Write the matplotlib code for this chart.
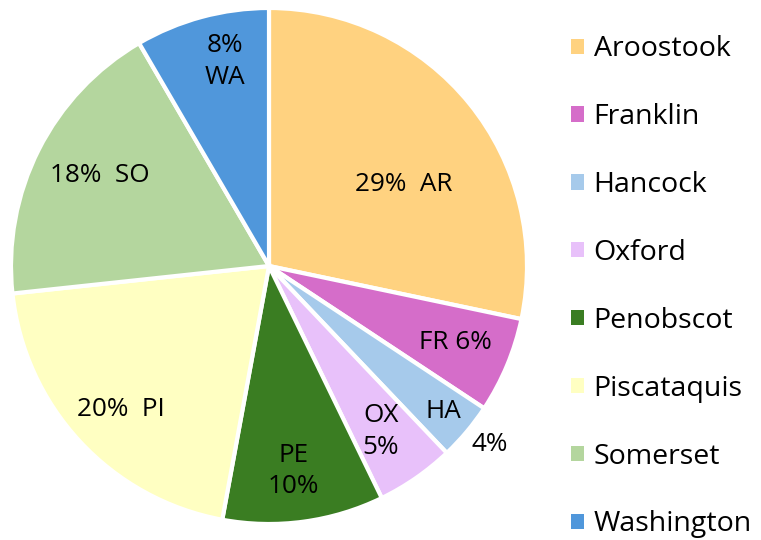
import matplotlib
matplotlib.use("Agg")
import matplotlib.pyplot as plt
import numpy as np
from matplotlib.patches import Patch

plt.rcParams['font.family'] = ['Open Sans', 'DejaVu Sans']

counties = ["Aroostook", "Franklin", "Hancock", "Oxford", "Penobscot",
            "Piscataquis", "Somerset", "Washington"]
abbrevs = ["AR", "FR", "HA", "OX", "PE", "PI", "SO", "WA"]
shares = [28.3, 6.0, 3.6, 4.9, 10.1, 20.4, 18.3, 8.4]
pct_labels = ["29%", "6%", "4%", "5%", "10%", "20%", "18%", "8%"]
colors = ["#FFD280", "#D56DC9", "#A6CAEB", "#E8C1FA", "#3A7D22",
          "#FFFFC2", "#B4D69E", "#5097DB"]

W, H = 761, 540
fig = plt.figure(figsize=(W / 100, H / 100), dpi=100)
cx, cy, R = 269, 266, 258
ax = fig.add_axes([(cx - R) / W, (H - cy - R) / H, 2 * R / W, 2 * R / H])

wedges, _ = ax.pie(shares, colors=colors, startangle=90, counterclock=False,
                   radius=1.0, wedgeprops=dict(edgecolor="white", linewidth=3))
ax.set_xlim(-1, 1)
ax.set_ylim(-1, 1)
ax.set_aspect('equal')

# label templates and radial placement (fraction of radius, angle offset deg)
templates = ["{p}  {a}", "{a} {p}", None, "{a}\n{p}", "{a}\n{p}",
             "{p}  {a}", "{p}  {a}", "{p}\n{a}"]
rfrac = [0.61, 0.78, 0.88, 0.775, 0.80, 0.80, 0.745, 0.81]
dang = [-8, 0.3, 0, -0.7, -0.9, 1.1, -1.2, -3]
fs = 18.8
for i, w in enumerate(wedges):
    mid = np.deg2rad((w.theta1 + w.theta2) / 2 + dang[i])
    x, y = rfrac[i] * np.cos(mid), rfrac[i] * np.sin(mid)
    if templates[i] is None:
        ax.text(x, y, abbrevs[i], ha='center', va='center', fontsize=fs)
        r2 = 1.10
        mid2 = mid + np.deg2rad(0.9)
        ax.text(r2 * np.cos(mid2), r2 * np.sin(mid2), pct_labels[i],
                ha='center', va='center', fontsize=fs)
    else:
        ax.text(x, y, templates[i].format(p=pct_labels[i], a=abbrevs[i]),
                ha='center', va='center', fontsize=fs, linespacing=1.35)

handles = [Patch(facecolor=c, edgecolor='none') for c in colors]
fig.legend(handles, counties, loc='upper left', bbox_to_anchor=(560 / W, 1 - 24 / H),
           frameon=False, fontsize=20.5, handlelength=0.45, handleheight=0.45,
           handletextpad=0.33, labelspacing=1.4, borderaxespad=0)

fig.savefig("out.png", dpi=100)
